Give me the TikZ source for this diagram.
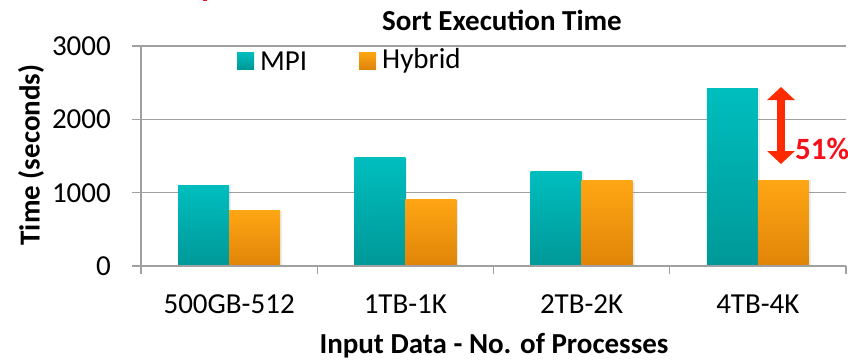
\documentclass[tikz,border=0pt]{standalone}
\usepackage{fontspec}
\setmainfont{Carlito}
\usepackage{tikz}
\usetikzlibrary{positioning, arrows.meta, math, shadows, backgrounds}
\definecolor{mpitop}{HTML}{00BEBE}
\definecolor{mpibot}{HTML}{009898}
\definecolor{hybtop}{HTML}{FFA614}
\definecolor{hybbot}{HTML}{E08408}
\definecolor{gridgray}{HTML}{A0A0A0}
\definecolor{gapred}{HTML}{FF2A00}
\definecolor{pctred}{HTML}{F5101A}
\tikzset{%
  % bars with a vertical gradient
  mpibar/.style={top color=mpitop, bottom color=mpibot, draw=none,
    drop shadow={shadow xshift=2pt, shadow yshift=-1pt, opacity=0.15}},
  hybbar/.style={top color=hybtop, bottom color=hybbot, draw=none,
    drop shadow={shadow xshift=2pt, shadow yshift=-1pt, opacity=0.15}},
  % axis and grid lines
  gridline/.style={draw=gridgray, line width=1.3pt},
  ticklabel/.style={font=\fontsize{29}{32}\selectfont, inner sep=0pt},
  axistitle/.style={font=\fontsize{29}{32}\selectfont\bfseries, inner sep=0pt},
}

\begin{document}
\begin{tikzpicture}[x=1pt, y=-1pt]
  \useasboundingbox (0,0) rectangle (848,362);
  \tikzmath{\xo = 141; \yo = 266; \unit = 0.0733; \cw = 176.25; \bw = 51;}
  % stray mark at the top edge
  \fill[pctred] (203,0) rectangle (207,1.3);
  % grid
  \foreach \v in {0,1000,2000,3000} {
    \tikzmath{\gy = \yo-\v*\unit;}
    \draw[gridline] (132,\gy) -- (846,\gy);
    \node[ticklabel, anchor=east] (tick\v) at (111,\gy) {\v};
  }
  \draw[gridline] (\xo,46) -- (\xo,274);
  \foreach \i in {1,...,4} {
    \tikzmath{\tx = \xo+\i*\cw;}
    \draw[gridline] (\tx,\yo) -- (\tx,274);
  }
  % bars
  \foreach \i/\m/\h/\lab in {0/1105/764/500GB-512, 1/1487/914/1TB-1K, 2/1296/1160/2TB-2K, 3/2428/1173/4TB-4K} {
    \tikzmath{\cx = \xo+(\i+0.5)*\cw; \my = \yo-\m*\unit; \hy = \yo-\h*\unit;}
    \path[mpibar] (\cx-\bw,\my) rectangle (\cx,\yo);
    \path[hybbar] (\cx,\hy) rectangle (\cx+\bw,\yo);
    \node[ticklabel] (cat\i) at (\cx,304) {\lab};
  }
  \draw[gridline] (132,\yo) -- (846,\yo);
  % legend
  \path[top color=mpitop, bottom color=mpibot] (237,52) rectangle (254,69);
  \node[ticklabel, anchor=west] (legmpi) at (260,61) {MPI};
  \path[top color=hybtop, bottom color=hybbot] (359,52) rectangle (376,69);
  \node[ticklabel, anchor=west] (leghyb) at (382,61) {Hybrid};
  % titles
  \node[axistitle] (title) at (502,20) {Sort Execution Time};
  \node[axistitle] (xtitle) at (494,346) {Input Data - No. of Processes};
  \node[axistitle, rotate=90] (ytitle) at (31,155) {Time (seconds)};
  % gap between MPI and Hybrid at 4K
  \coordinate (gaptop) at (781,87);
  \coordinate (gapbot) at (781,164);
  \draw[gapred, line width=8pt, {Triangle[width=27pt,length=13pt]}-{Triangle[width=27pt,length=13pt]}] (gaptop) -- (gapbot);
  \node[axistitle, text=pctred, font=\fontsize{31}{34}\selectfont\bfseries, anchor=west] (gap) at (795,149) {51\%};
\end{tikzpicture}
\end{document}
